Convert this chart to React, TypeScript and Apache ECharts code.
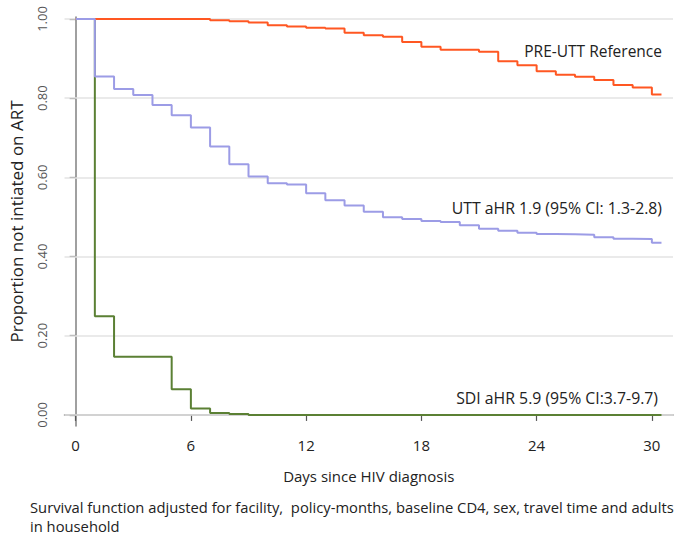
import React, { useEffect, useRef } from "react";
import * as echarts from "echarts";

const xTicks = [0, 6, 12, 18, 24, 30];
const yTicks = [0, 0.2, 0.4, 0.6, 0.8, 1.0];

// Step-function points: [day, proportion]
const preUtt: [number, number][] = [
  [0, 1.0], [7, 0.997], [8, 0.994], [9, 0.991], [10, 0.984], [11, 0.981],
  [12, 0.978], [13, 0.976], [14, 0.965], [15, 0.959], [16, 0.955], [17, 0.942],
  [18, 0.93], [19, 0.922], [21, 0.917], [22, 0.893], [23, 0.883], [24, 0.868],
  [25, 0.859], [26, 0.854], [27, 0.846], [28, 0.833], [29, 0.827], [30, 0.809],
  [30.5, 0.809],
];
const utt: [number, number][] = [
  [0, 1.0], [1, 0.855], [2, 0.823], [3, 0.808], [4, 0.783], [5, 0.757],
  [6, 0.726], [7, 0.678], [8, 0.633], [9, 0.602], [10, 0.585], [11, 0.582],
  [12, 0.56], [13, 0.542], [14, 0.529], [15, 0.513], [16, 0.499], [17, 0.495],
  [18, 0.49], [19, 0.487], [20, 0.479], [21, 0.47], [22, 0.465], [23, 0.46],
  [24, 0.457], [25, 0.456], [26, 0.455], [27, 0.449], [28, 0.445], [29, 0.444],
  [30, 0.435], [30.5, 0.435],
];
const sdi: [number, number][] = [
  [0, 1.0], [1, 0.249], [2, 0.147], [5, 0.065], [6, 0.016], [7, 0.005],
  [8, 0.002], [9, 0.0], [30.5, 0.0],
];

const labels = {
  pre: "PRE-UTT Reference",
  utt: "UTT aHR 1.9 (95% CI: 1.3-2.8)",
  sdi: "SDI aHR 5.9 (95% CI:3.7-9.7)",
};
const xTitle = "Days since HIV diagnosis";
const yTitle = "Proportion not intiated on ART";
const note1 = "Survival function adjusted for facility,  policy-months, baseline CD4, sex, travel time and adults";
const note2 = "in household";

const FONT = "'Open Sans', 'Noto Sans', sans-serif";

export default function App() {
  const ref = useRef<HTMLDivElement>(null);
  useEffect(() => {
    if (!ref.current) return;
    const chart = echarts.init(ref.current, undefined, { renderer: "svg" });
    const lineStyle = (color: string) => ({ color, width: 2 });
    chart.setOption({
      animation: false,
      backgroundColor: "#ffffff",
      textStyle: { fontFamily: FONT },
      grid: { left: 64.5, right: 3, top: 17, bottom: 110, containLabel: false, outerBoundsMode: "none" },
      xAxis: {
        type: "value",
        min: -0.58,
        max: 31.1,
        name: xTitle,
        nameLocation: "middle",
        nameGap: 42,
        nameTextStyle: { fontSize: 15, color: "#222", fontFamily: FONT },
        axisLine: { show: true, lineStyle: { color: "#808080", width: 1.5 } },
        axisTick: { show: true, customValues: xTicks, length: 6, lineStyle: { color: "#555", width: 1.2 } },
        axisLabel: { customValues: xTicks, fontSize: 15, color: "#222", margin: 11, fontFamily: FONT },
        splitLine: { show: false },
      },
      yAxis: {
        type: "value",
        min: -0.028,
        max: 1.005,
        name: yTitle,
        nameLocation: "middle",
        nameGap: 40,
        nameRotate: 90,
        nameTextStyle: { fontSize: 17, color: "#222", fontFamily: FONT },
        axisLine: { show: true, lineStyle: { color: "#808080", width: 1.5 } },
        axisTick: { show: true, customValues: yTicks, length: 6, lineStyle: { color: "#555", width: 1.2 } },
        axisLabel: {
          customValues: yTicks,
          rotate: 90,
          fontSize: 13,
          color: "#555",
          margin: 16,
          fontFamily: FONT,
          formatter: (v: number) => v.toFixed(2),
        },
        splitLine: { show: false },
      },
      series: [
        {
          type: "line",
          name: "SDI",
          step: "end",
          data: sdi,
          symbol: "none",
          lineStyle: lineStyle("#5b8034"),
          z: 2,
          markLine: {
            silent: true,
            symbol: "none",
            label: { show: false },
            lineStyle: { color: "#e3e3e3", width: 1.5, type: "solid" },
            data: yTicks.map((v) => ({ yAxis: v })),
            z: 1,
          },
        },
        {
          type: "line",
          name: "PRE-UTT",
          step: "end",
          data: preUtt,
          symbol: "none",
          lineStyle: lineStyle("#ff5722"),
          z: 3,
        },
        {
          type: "line",
          name: "UTT",
          step: "end",
          data: utt,
          symbol: "none",
          lineStyle: lineStyle("#9c9ce6"),
          z: 4,
        },
      ],
      graphic: [
        { type: "text", right: 14, top: 43, style: { text: labels.pre, fontSize: 15.5, fill: "#222", fontFamily: FONT } },
        { type: "text", right: 14, top: 200, style: { text: labels.utt, fontSize: 15.8, fill: "#222", fontFamily: FONT } },
        { type: "text", right: 18, top: 390, style: { text: labels.sdi, fontSize: 15.8, fill: "#222", fontFamily: FONT } },
        { type: "text", left: 30, top: 499, style: { text: note1, fontSize: 14.75, fill: "#222", fontFamily: FONT } },
        { type: "text", left: 30, top: 518, style: { text: note2, fontSize: 14.75, fill: "#222", fontFamily: FONT } },
      ],
    });
    return () => chart.dispose();
  }, []);
  return <div ref={ref} style={{ width: 676, height: 536, position: "absolute", left: 0, top: 0 }} />;
}
